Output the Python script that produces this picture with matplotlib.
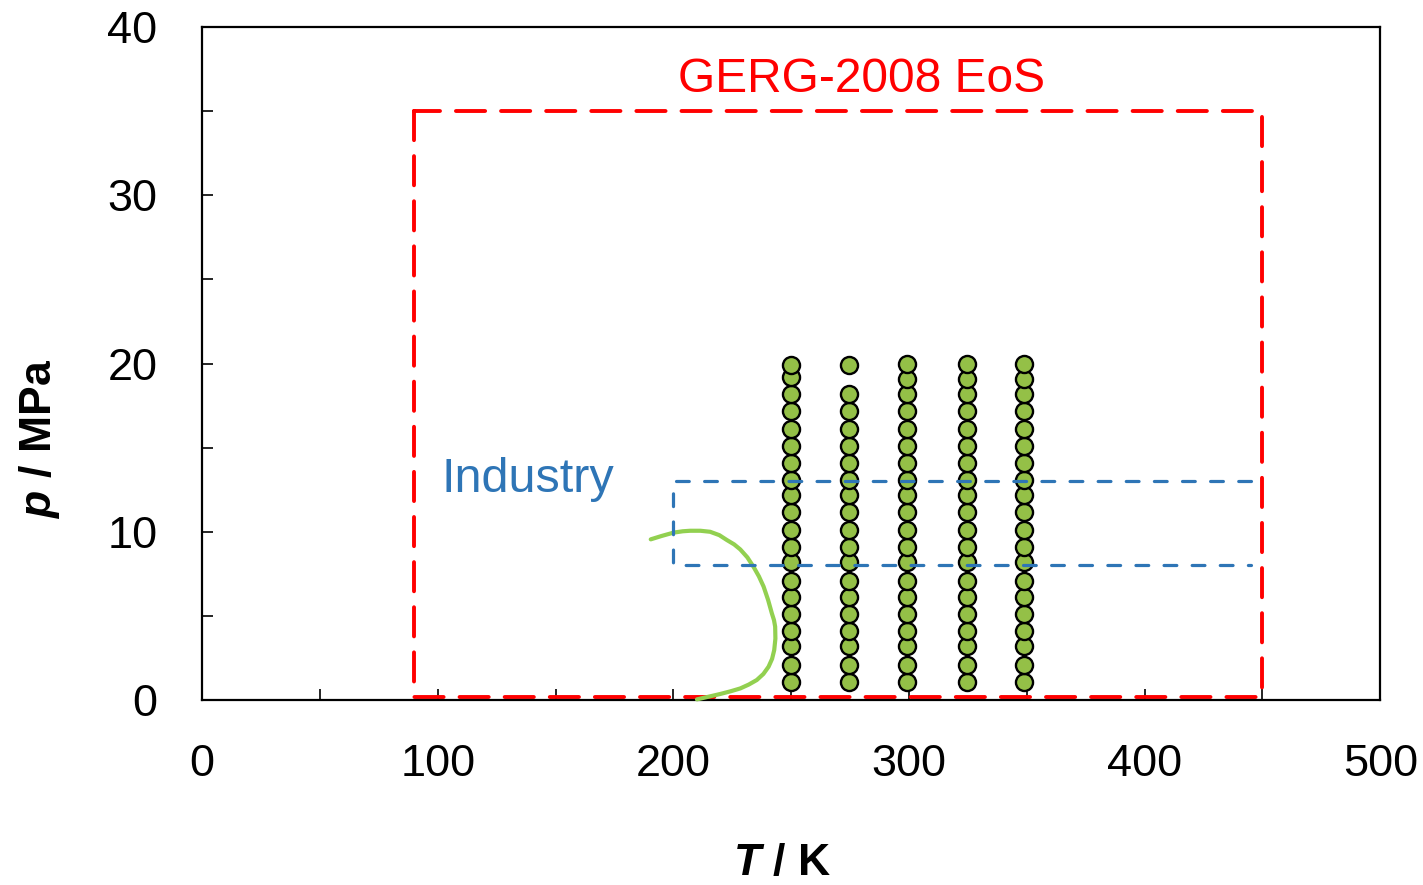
import matplotlib
matplotlib.use("Agg")
import matplotlib.pyplot as plt
from matplotlib.ticker import MultipleLocator

plt.rcParams["font.family"] = ["Liberation Sans", "DejaVu Sans"]
plt.rcParams["mathtext.fontset"] = "custom"
plt.rcParams["mathtext.bfit"] = "Liberation Sans:italic:bold"
plt.rcParams["mathtext.it"] = "Liberation Sans:italic"

# measured points (T / K, p / MPa)
temps = [250, 274.5, 299, 324.5, 349]
p_250 = [1.1, 2.1, 3.2, 4.1, 5.1, 6.1, 7.1, 8.2, 9.1, 10.1, 11.2, 12.2, 13.1,
         14.1, 15.1, 16.1, 17.2, 18.2, 19.2, 19.9]
p_275 = [1.1, 2.1, 3.2, 4.1, 5.1, 6.1, 7.1, 8.2, 9.1, 10.1, 11.2, 12.2, 13.1,
         14.1, 15.1, 16.1, 17.2, 18.2, 19.9]
p_300 = [1.1, 2.1, 3.2, 4.1, 5.1, 6.1, 7.1, 8.2, 9.1, 10.1, 11.2, 12.2, 13.1,
         14.1, 15.1, 16.1, 17.2, 18.2, 19.1, 20.0]
p_325 = p_300
p_350 = p_300
p_sets = [p_250, p_275, p_300, p_325, p_350]

# phase envelope
env_T = [190.4, 195.0, 200.1, 204.0, 207.1, 211.5, 215.6, 219.5, 222.7, 225.8,
         228.4, 231.4, 234.0, 236.3, 238.3, 240.2, 241.8, 242.7, 243.2, 243.3,
         242.8, 241.9, 240.4, 238.2, 235.4, 232.0, 228.4, 224.3, 219.9, 215.0,
         210.0]
env_p = [9.55, 9.75, 9.95, 10.03, 10.06, 10.06, 10.0, 9.8, 9.51, 9.25,
         8.95, 8.48, 7.92, 7.35, 6.74, 5.95, 5.15, 4.75, 4.36, 3.65,
         2.97, 2.45, 1.98, 1.55, 1.19, 0.92, 0.69, 0.52, 0.36, 0.2,
         0.04]

# validity ranges
gerg_T = [90, 450]
gerg_p = [0.2, 35]
ind_T = [200, 445]
ind_p = [8, 13]

fig = plt.figure(figsize=(14.23, 8.85), dpi=100)
ax = fig.add_axes([0.142, 0.209, 0.828, 0.7605])

red = "#FF0000"
blue = "#2E75B6"

# GERG box
ax.plot([gerg_T[0], gerg_T[0], gerg_T[1], gerg_T[1], gerg_T[0]],
        [gerg_p[1], gerg_p[0], gerg_p[0], gerg_p[1], gerg_p[1]],
        color=red, lw=2.8, dashes=(7.5, 4.1), dash_capstyle="round",
        clip_on=False, zorder=2)

ax.plot(env_T, env_p, color="#92D050", lw=3.0, zorder=3, clip_on=False,
        solid_capstyle="round", solid_joinstyle="round")

for T, ps in zip(temps, p_sets):
    ax.plot([T] * len(ps), ps, "o", ms=12.3, mfc="#94C047", mec="black",
            mew=1.7, zorder=4)

# Industry box
ax.plot([ind_T[1], ind_T[0], ind_T[0], ind_T[1]],
        [ind_p[1], ind_p[1], ind_p[0], ind_p[0]],
        color=blue, lw=2.3, dashes=(4, 4.8), dash_capstyle="round",
        zorder=5)

ax.text(280, 36.14, "GERG-2008 EoS", color=red, fontsize=34.5,
        ha="center", va="baseline")
ax.text(101.5, 12.36, "Industry", color=blue, fontsize=35,
        ha="left", va="baseline")

ax.set_xlim(0, 500)
ax.set_ylim(0, 40)
ax.xaxis.set_major_locator(MultipleLocator(100))
ax.xaxis.set_minor_locator(MultipleLocator(50))
ax.yaxis.set_major_locator(MultipleLocator(10))
ax.yaxis.set_minor_locator(MultipleLocator(5))
ax.tick_params(which="both", direction="in", length=8, width=1.2,
               top=False, right=False)
ax.tick_params(which="major", labelsize=32.5, pad=32)
for s in ax.spines.values():
    s.set_linewidth(1.6)

fig.text(40 / 1423, 1 - 438 / 885, r"$\mathbfit{p}$ / MPa", rotation=90,
         fontsize=32, fontweight="bold", ha="center", va="center")
fig.text(782 / 1423, 10 / 885, r"$\mathbfit{T}$ / K",
         fontsize=32, fontweight="bold", ha="center", va="baseline")

fig.savefig("out.png", dpi=100)
